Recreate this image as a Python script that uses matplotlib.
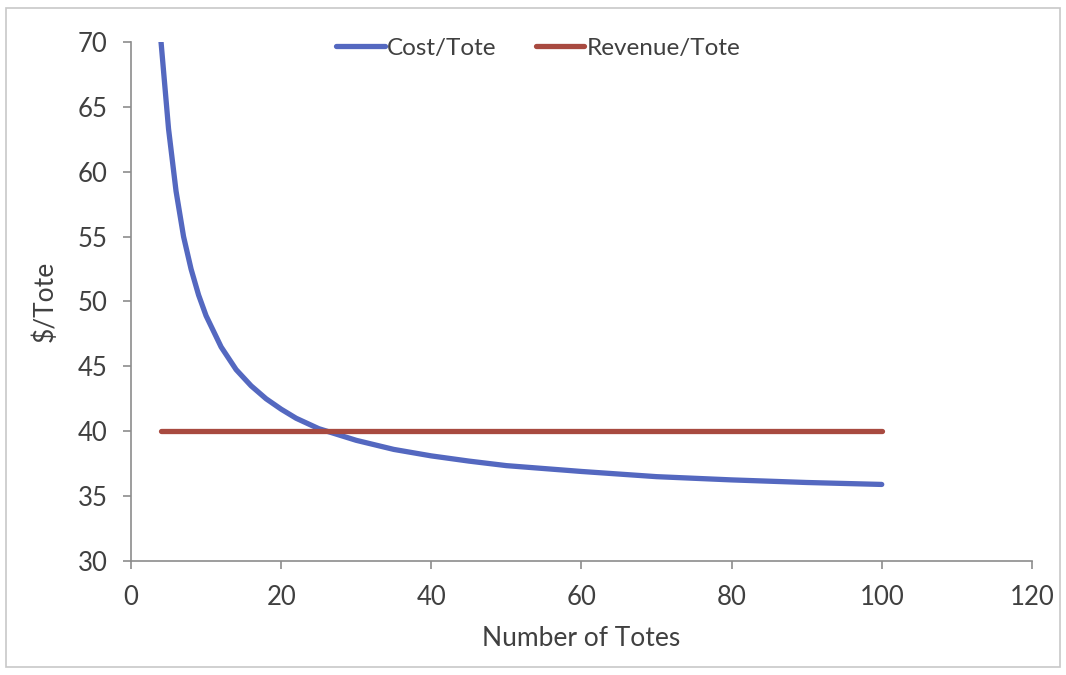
import matplotlib.pyplot as plt
from matplotlib.patches import Rectangle

# values
totes = [4, 5, 6, 7, 8, 9, 10, 12, 14, 16, 18, 20, 22, 25, 30, 35, 40, 45,
         50, 60, 70, 80, 90, 100]
cost_per_tote = [70.0, 63.3, 58.5, 55.0, 52.5, 50.5, 48.9, 46.5, 44.75, 43.5,
                 42.5, 41.7, 41.0, 40.2, 39.3, 38.6, 38.1, 37.7, 37.35, 36.9,
                 36.5, 36.25, 36.05, 35.9]
revenue_x = [4, 100]
revenue_per_tote = [40, 40]

plt.rcParams["font.family"] = ["Lato", "DejaVu Sans"]
txt = "#404040"

fig = plt.figure(figsize=(10.66, 6.75), dpi=100)
ax = fig.add_axes([0.1229, 0.1689, 0.8451, 0.7689])

ax.plot(totes, cost_per_tote, color="#5468c0", lw=3.8, label="Cost/Tote",
        solid_capstyle="round", solid_joinstyle="round")
ax.plot(revenue_x, revenue_per_tote, color="#a84a40", lw=3.8, label="Revenue/Tote",
        solid_capstyle="round")

ax.set_xlim(0, 120)
ax.set_ylim(30, 70)
ax.set_xticks(range(0, 121, 20))
ax.set_yticks(range(30, 71, 5))
for s in ["top", "right"]:
    ax.spines[s].set_visible(False)
for s in ["left", "bottom"]:
    ax.spines[s].set_color("#8c8c8c")
    ax.spines[s].set_linewidth(1.2)
ax.tick_params(colors="#8c8c8c", labelcolor=txt, labelsize=18.5, length=6, width=1.2,
               direction="out")
ax.tick_params(axis="y", pad=11)
ax.tick_params(axis="x", pad=11)

ax.set_xlabel("Number of Totes", fontsize=19, color=txt, labelpad=12)
ax.set_ylabel("$/Tote", fontsize=19, color=txt, labelpad=14)

ax.legend(loc="upper center", bbox_to_anchor=(0.452, 1.05), ncol=2, frameon=False,
          fontsize=17.5, handlelength=2.0, handletextpad=0.1, columnspacing=1.6,
          labelcolor=txt)

fig.patches.append(Rectangle((0.006, 0.012), 0.988, 0.976, transform=fig.transFigure,
                             fill=False, edgecolor="#c8c8c8", lw=1.2))

fig.savefig("out.png", dpi=100)
